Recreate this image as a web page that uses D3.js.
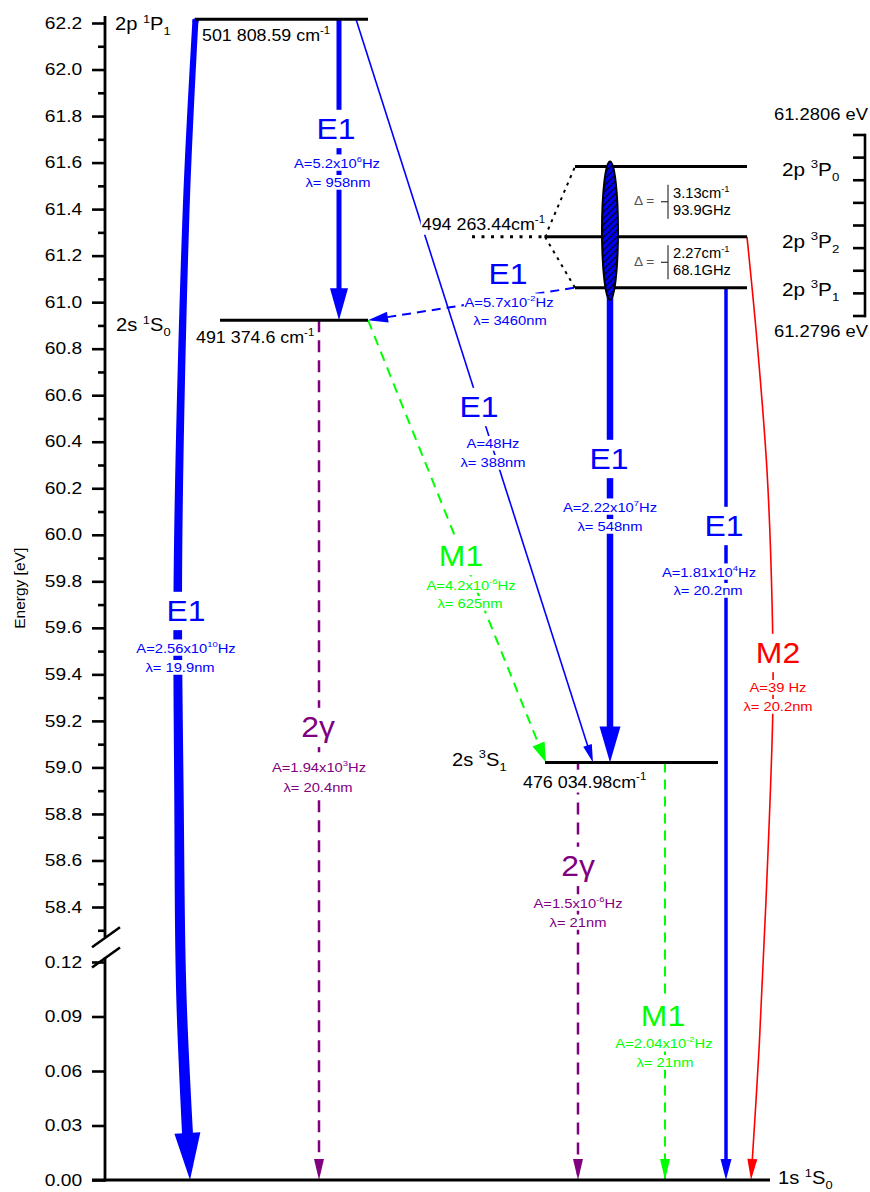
<!DOCTYPE html>
<html>
<head>
<meta charset="utf-8">
<script src="https://cdn.jsdelivr.net/npm/d3@7"></script>
<style>
  body { margin: 0; background: #fff; }
  svg { display: block; font-family: "Liberation Sans", Arial, Helvetica, sans-serif; }
</style>
</head>
<body>
<div id="wrapper"></div>
<script>
// ---- data ----

const HC = 1.23984e-4; // eV per cm-1

// energy levels
const levelIds = ['2p1P1', '2s1S0', '2p3P', '2s3S1', '1s1S0'];
const levelNames = ['2p ^{1}P_{1}', '2s ^{1}S_{0}', '2p ^{3}P', '2s ^{3}S_{1}', '1s ^{1}S_{0}'];
const levelWavenumbers = [501808.59, 491374.6, 494263.44, 476034.98, 0]; // cm-1
const levelValueLabels = ['501 808.59 cm^{-1}', '491 374.6 cm^{-1}', '494 263.44cm^{-1}', '476 034.98cm^{-1}', ''];

// 2p 3P fine structure (magnified inset)
const fineIds = ['3P0', '3P2', '3P1'];
const fineNames = ['2p ^{3}P_{0}', '2p ^{3}P_{2}', '2p ^{3}P_{1}'];
const fineOffsetsCm = [3.13, 0, -2.27]; // relative to 3P2
const fineSplitCm = ['3.13cm^{-1}', '2.27cm^{-1}'];
const fineSplitGHz = ['93.9GHz', '68.1GHz'];
const insetLimits = [61.2796, 61.2806];
const insetStep = 0.000125;

// transitions
const transFrom = ['2p1P1', '2p1P1', '2p1P1', '3P1', '3P1', '3P1', '3P2', '2s1S0', '2s1S0', '2s3S1', '2s3S1'];
const transTo = ['1s1S0', '2s1S0', '2s3S1', '2s1S0', '2s3S1', '1s1S0', '1s1S0', '1s1S0', '2s3S1', '1s1S0', '1s1S0'];
const transType = ['E1', 'E1', 'E1', 'E1', 'E1', 'E1', 'M2', '2γ', 'M1', '2γ', 'M1'];
const transRate = ['2.56x10^{10}Hz', '5.2x10^{6}Hz', '48Hz', '5.7x10^{-2}Hz', '2.22x10^{7}Hz', '1.81x10^{4}Hz',
  '39 Hz', '1.94x10^{3}Hz', '4.2x10^{-6}Hz', '1.5x10^{-6}Hz', '2.04x10^{-2}Hz'];
const transWavelength = ['19.9nm', '958nm', '388nm', '3460nm', '548nm', '20.2nm', '20.2nm', '20.4nm', '625nm', '21nm', '21nm'];

// axis ticks
const upperTicks = [58.4, 58.6, 58.8, 59.0, 59.2, 59.4, 59.6, 59.8, 60.0, 60.2, 60.4, 60.6, 60.8, 61.0, 61.2, 61.4, 61.6, 61.8, 62.0, 62.2];
const upperMinor = [58.3, 58.5, 58.7, 58.9, 59.1, 59.3, 59.5, 59.7, 59.9, 60.1, 60.3, 60.5, 60.7, 60.9, 61.1, 61.3, 61.5, 61.7, 61.9, 62.1];
const lowerTicks = [0, 0.03, 0.06, 0.09, 0.12];

// ---- layout & style ----

const BLUE = '#0000ff', RED = '#ff0000', PURPLE = '#800080', GREEN = '#00ff00';
const width = 870, height = 1192;

const x = d3.scaleLinear().domain([0, 765]).range([105, 870]);
const yUpper = d3.scaleLinear().domain([58.4, 62.2]).range([907, 23]);
const yLower = d3.scaleLinear().domain([0, 0.12]).range([1180, 962]);
const yE = (e) => (e > 1 ? yUpper(e) : yLower(e));
const yInset = d3.scaleLinear().domain(insetLimits).range([316, 135]);

// level positions (x in plot units, offsets in px)
const levelLayout = {
  '2p1P1': { x0: 90, x1: 263, name: [10, 11], value: [97, 22] },
  '2s1S0': { x0: 115, x1: 263, name: [11, 11], value: [91, 23] },
  '2s3S1': { x0: 440, x1: 613, name: [347, 3], value: [418, 25] },
  '1s1S0': { x0: -13, x1: 665, name: [673, 4] },
};
const fineLayout = { x0: [470, 440, 470], x1: 642, dotFrom: 367, name: 677, nameDy: [9, 11, 8] };

const transStyle = [
  { color: BLUE, w0: 6, w1: 11, head: [47, 26], x0: 90.5, x1: 85, via: [[81.5, 61.439], [73, 59.891], [74, 58.86], [76.5, 0.0991]] },
  { color: BLUE, width: 5, head: [32, 18], x0: 234, x1: 234 },
  { color: BLUE, width: 1.6, head: [18, 9], x0: 251, x1: 488 },
  { color: BLUE, width: 2, dash: '9,6', head: [20, 11], x0: 469, x1: 263 },
  { color: BLUE, width: 6.5, head: [36, 21], x0: 505, x1: 505 },
  { color: BLUE, width: 3.5, head: [21, 11], x0: 621, x1: 621 },
  { color: RED, width: 1.6, head: [21, 10], x0: 642, x1: 646, via: [[652, 60.834], [662, 60.276], [667, 59.717], [668, 59.288], [661, 58.428], [654, 0.0716]] },
  { color: PURPLE, width: 2.5, dash: '12,8', head: [21, 10], x0: 214, x1: 214 },
  { color: GREEN, width: 2, dash: '10,7', head: [20, 13], x0: 263, x1: 441 },
  { color: PURPLE, width: 2.5, dash: '12,8', head: [21, 10], x0: 473, x1: 473 },
  { color: GREEN, width: 2, dash: '10,7', head: [21, 10], x0: 560, x1: 560 },
];
// label centres: type, rate, wavelength (px)
const transLabelPos = [
  [[186, 611], [186, 648], [180, 667]],
  [[336, 129], [337, 163], [338, 182]],
  [[479, 407], [493, 443], [493, 462]],
  [[508, 274], [509, 302], [510, 320]],
  [[609, 459], [610, 507], [610, 526]],
  [[724, 526], [709, 572], [708, 590]],
  [[778, 653], [778, 687], [778, 706]],
  [[318, 727], [319, 767], [318, 787]],
  [[461, 556], [471, 585], [470, 603]],
  [[578, 866], [578, 903], [578, 922]],
  [[663, 1016], [664, 1043], [665, 1062]],
];

// ---- helpers ----

function richText(g, str, size) {
  const t = g.append('text').style('font-size', size + 'px');
  const parts = str.split(/(\^\{[^}]*\}|_\{[^}]*\})/).filter((s) => s.length);
  let shift = 0;
  parts.forEach((p) => {
    let txt = p, target = 0, fs = size;
    if (p.startsWith('^{')) { txt = p.slice(2, -1); target = -0.42 * size; fs = 0.64 * size; }
    else if (p.startsWith('_{')) { txt = p.slice(2, -1); target = 0.28 * size; fs = 0.64 * size; }
    t.append('tspan').attr('dy', target - shift).style('font-size', fs + 'px').text(txt);
    shift = target;
  });
  return t;
}

function label(parent, px, py, str, o) {
  const g = parent.append('g').attr('transform', `translate(${px},${py}) scale(${o.sx || 1},1)`);
  const t = richText(g, str, o.size)
    .attr('text-anchor', o.anchor || 'middle')
    .attr('y', o.center ? o.size * 0.36 : 0)
    .attr('fill', o.color || '#000');
  if (o.bg != null) {
    const b = t.node().getBBox();
    g.insert('rect', 'text')
      .attr('x', b.x - o.bg).attr('y', b.y - o.bg)
      .attr('width', b.width + 2 * o.bg).attr('height', b.height + 2 * o.bg)
      .attr('fill', '#fff');
  }
  return g;
}

function arrow(g, pts, s) {
  const tmp = g.append('path')
    .attr('d', d3.line().curve(d3.curveCatmullRom.alpha(0.5))(pts))
    .attr('fill', 'none');
  const node = tmp.node();
  const L = node.getTotalLength();
  const at = (l) => node.getPointAtLength(Math.max(0, Math.min(L, l)));
  const [hl, hw] = s.head;
  const tip = at(L), back = at(L - 3);
  let ux = tip.x - back.x, uy = tip.y - back.y;
  const un = Math.hypot(ux, uy); ux /= un; uy /= un;
  const cut = L - hl * 0.6;

  if (s.w0) {
    const N = 100, left = [], right = [];
    for (let i = 0; i <= N; i++) {
      const l = (cut * i) / N, p = at(l), a = at(l - 1), b = at(l + 1);
      let tx = b.x - a.x, ty = b.y - a.y;
      const m = Math.hypot(tx, ty); tx /= m; ty /= m;
      const w = (s.w0 + ((s.w1 - s.w0) * i) / N) / 2;
      left.push([p.x - ty * w, p.y + tx * w]);
      right.push([p.x + ty * w, p.y - tx * w]);
    }
    tmp.remove();
    g.append('path').attr('d', d3.line()(left.concat(right.reverse())) + 'Z').attr('fill', s.color);
    g.append('circle').attr('cx', pts[0][0]).attr('cy', pts[0][1] + 2).attr('r', s.w0 / 2).attr('fill', s.color);
  } else {
    tmp.attr('stroke', s.color).attr('stroke-width', s.width);
    if (s.dash) tmp.attr('stroke-dasharray', s.dash);
    else tmp.attr('stroke-dasharray', `${cut},${L}`);
  }
  const bx = tip.x - ux * hl, by = tip.y - uy * hl;
  g.append('path')
    .attr('d', `M${tip.x},${tip.y}L${bx - uy * hw / 2},${by + ux * hw / 2}L${bx + uy * hw / 2},${by - ux * hw / 2}Z`)
    .attr('fill', s.color);
}

// ---- canvas ----

const svg = d3.select('#wrapper').append('svg').attr('width', width).attr('height', height);

const defs = svg.append('defs');
const hatch = defs.append('pattern').attr('id', 'hatch')
  .attr('patternUnits', 'userSpaceOnUse').attr('width', 4.5).attr('height', 4.5)
  .attr('patternTransform', 'rotate(45)');
hatch.append('rect').attr('width', 4.5).attr('height', 4.5).attr('fill', BLUE);
hatch.append('line').attr('x1', 0).attr('y1', 0).attr('x2', 0).attr('y2', 4.5)
  .attr('stroke', '#000').attr('stroke-width', 2.2);

// level y positions
const levelY = {};
levelIds.forEach((id, i) => { levelY[id] = yE(levelWavenumbers[i] * HC); });
const e3P2 = yInset.invert(levelY['2p3P']);
fineIds.forEach((id, i) => { levelY[id] = yInset(e3P2 + fineOffsetsCm[i] * HC); });

// ---- transitions ----

const transG = svg.append('g');
transType.forEach((t, i) => {
  const s = transStyle[i];
  const pts = [[x(s.x0), levelY[transFrom[i]]]]
    .concat((s.via || []).map(([xd, e]) => [x(xd), yE(e)]))
    .concat([[x(s.x1), levelY[transTo[i]]]]);
  arrow(transG, pts, s);
});

// ---- levels ----

const levelG = svg.append('g');
Object.keys(levelLayout).forEach((id) => {
  const lay = levelLayout[id];
  const i = levelIds.indexOf(id);
  levelG.append('line')
    .attr('x1', x(lay.x0)).attr('x2', x(lay.x1))
    .attr('y1', levelY[id]).attr('y2', levelY[id])
    .attr('stroke', '#000').attr('stroke-width', 3);
  label(levelG, x(lay.name[0]), levelY[id] + lay.name[1], levelNames[i], { size: 17.5, sx: 1.15, anchor: 'start' });
  if (lay.value) {
    label(levelG, x(lay.value[0]), levelY[id] + lay.value[1], levelValueLabels[i], { size: 17, sx: 1.05, anchor: 'start', bg: 1 });
  }
});

// fine-structure levels
const y3P2 = levelY['3P2'];
levelG.append('line')
  .attr('x1', x(fineLayout.dotFrom)).attr('x2', x(fineLayout.x0[1]))
  .attr('y1', y3P2).attr('y2', y3P2)
  .attr('stroke', '#000').attr('stroke-width', 3).attr('stroke-dasharray', '3,6.5');
[0, 2].forEach((k) => {
  levelG.append('line')
    .attr('x1', x(fineLayout.x0[1])).attr('y1', y3P2)
    .attr('x2', x(fineLayout.x0[k])).attr('y2', levelY[fineIds[k]])
    .attr('stroke', '#000').attr('stroke-width', 2).attr('stroke-dasharray', '3,5');
});
fineIds.forEach((id, i) => {
  levelG.append('line')
    .attr('x1', x(fineLayout.x0[i])).attr('x2', x(fineLayout.x1))
    .attr('y1', levelY[id]).attr('y2', levelY[id])
    .attr('stroke', '#000').attr('stroke-width', 3);
  label(levelG, x(fineLayout.name), levelY[id] + fineLayout.nameDy[i], fineNames[i], { size: 18, sx: 1.15, anchor: 'start' });
});
label(levelG, x(440), y3P2 - 7, levelValueLabels[2], { size: 17, sx: 1.05, anchor: 'end', bg: 1 });

// splitting annotations
for (let k = 0; k < 2; k++) {
  const mid = (levelY[fineIds[k]] + levelY[fineIds[k + 1]]) / 2;
  label(levelG, x(529), mid + 3.5, 'Δ =', { size: 13, sx: 1.05, anchor: 'start', color: '#555' });
  levelG.append('line').attr('x1', x(556)).attr('x2', x(563)).attr('y1', mid).attr('y2', mid)
    .attr('stroke', '#333').attr('stroke-width', 1.2);
  levelG.append('line').attr('x1', x(563)).attr('x2', x(563)).attr('y1', mid - 17).attr('y2', mid + 17)
    .attr('stroke', '#333').attr('stroke-width', 1.2);
  label(levelG, x(568), mid - 4, fineSplitCm[k], { size: 14, sx: 1.05, anchor: 'start' });
  label(levelG, x(568), mid + 13, fineSplitGHz[k], { size: 14, sx: 1.05, anchor: 'start' });
}

// hatched ellipse grouping the 3P levels
const yTop = levelY['3P0'], yBot = levelY['3P1'];
svg.append('ellipse')
  .attr('cx', x(505)).attr('cy', (yTop + yBot) / 2 + 3.5)
  .attr('rx', 8).attr('ry', (yBot - yTop) / 2 + 8.5)
  .attr('fill', 'url(#hatch)').attr('stroke', '#000').attr('stroke-width', 2);

// ---- transition labels ----

const labelG = svg.append('g');
transType.forEach((t, i) => {
  const c = transStyle[i].color;
  const [pt, pr, pl] = transLabelPos[i];
  label(labelG, pt[0], pt[1], t, { size: 29, sx: 1.1, color: c, center: true, bg: 3 });
  label(labelG, pr[0], pr[1], 'A=' + transRate[i], { size: 12.5, sx: 1.18, color: c, center: true, bg: 0.5 });
  label(labelG, pl[0], pl[1], 'λ= ' + transWavelength[i], { size: 12.5, sx: 1.18, color: c, center: true, bg: 0.5 });
});

// ---- energy axis (broken) ----

const axisG = svg.append('g').attr('transform', `translate(${x(0)},0)`);

function styleAxis(g) {
  g.select('.domain').remove();
  g.attr('font-size', null).attr('font-family', null);
  g.selectAll('.tick line').attr('stroke-width', 2.6);
  g.selectAll('.tick text').style('font-size', '16px').attr('transform', 'scale(1.2,1)');
}
axisG.append('g')
  .call(d3.axisLeft(yUpper).tickValues(upperMinor).tickSize(7).tickFormat(''))
  .call(styleAxis);
axisG.append('g')
  .call(d3.axisLeft(yUpper).tickValues(upperTicks).tickSize(13).tickPadding(6).tickFormat(d3.format('.1f')))
  .call(styleAxis);
axisG.append('g')
  .call(d3.axisLeft(yLower).tickValues(lowerTicks).tickSize(13).tickPadding(6).tickFormat(d3.format('.2f')))
  .call(styleAxis);

const breakTop = yUpper(58.27), breakBot = yLower(0.1225);
axisG.append('line').attr('x1', 0).attr('x2', 0)
  .attr('y1', yUpper(62.23)).attr('y2', breakTop)
  .attr('stroke', '#000').attr('stroke-width', 2.8);
axisG.append('line').attr('x1', 0).attr('x2', 0)
  .attr('y1', breakBot).attr('y2', yLower(0) + 1.5)
  .attr('stroke', '#000').attr('stroke-width', 2.8);
[breakTop, breakBot].forEach((yc) => {
  axisG.append('line').attr('x1', -13).attr('y1', yc + 10).attr('x2', 15).attr('y2', yc - 10)
    .attr('stroke', '#000').attr('stroke-width', 2.6);
});

svg.append('text')
  .attr('transform', `translate(20,${yUpper(59.77)}) rotate(-90)`)
  .attr('text-anchor', 'middle').attr('dy', '0.35em')
  .style('font-size', '15.5px')
  .text('Energy [eV]');

// ---- inset axis for fine structure ----

const insetG = svg.append('g').attr('transform', `translate(${x(760)},0)`);
const insetTicks = d3.range(insetLimits[0], insetLimits[1] + insetStep / 2, insetStep);
insetG.append('line').attr('x1', 0).attr('x2', 0)
  .attr('y1', yInset(insetLimits[0]) + 1.3).attr('y2', yInset(insetLimits[1]) - 1.3)
  .attr('stroke', '#000').attr('stroke-width', 2.6);
insetG.selectAll('.itick').data(insetTicks).join('line')
  .attr('class', 'itick')
  .attr('x1', -12).attr('x2', 0)
  .attr('y1', (d) => yInset(d)).attr('y2', (d) => yInset(d))
  .attr('stroke', '#000').attr('stroke-width', 2.6);
label(insetG, 3, yInset(insetLimits[1]) - 15, d3.format('.4f')(insetLimits[1]) + ' eV', { size: 16, sx: 1.15, anchor: 'end' });
label(insetG, 3, yInset(insetLimits[0]) + 21, d3.format('.4f')(insetLimits[0]) + ' eV', { size: 16, sx: 1.15, anchor: 'end' });
</script>
</body>
</html>
